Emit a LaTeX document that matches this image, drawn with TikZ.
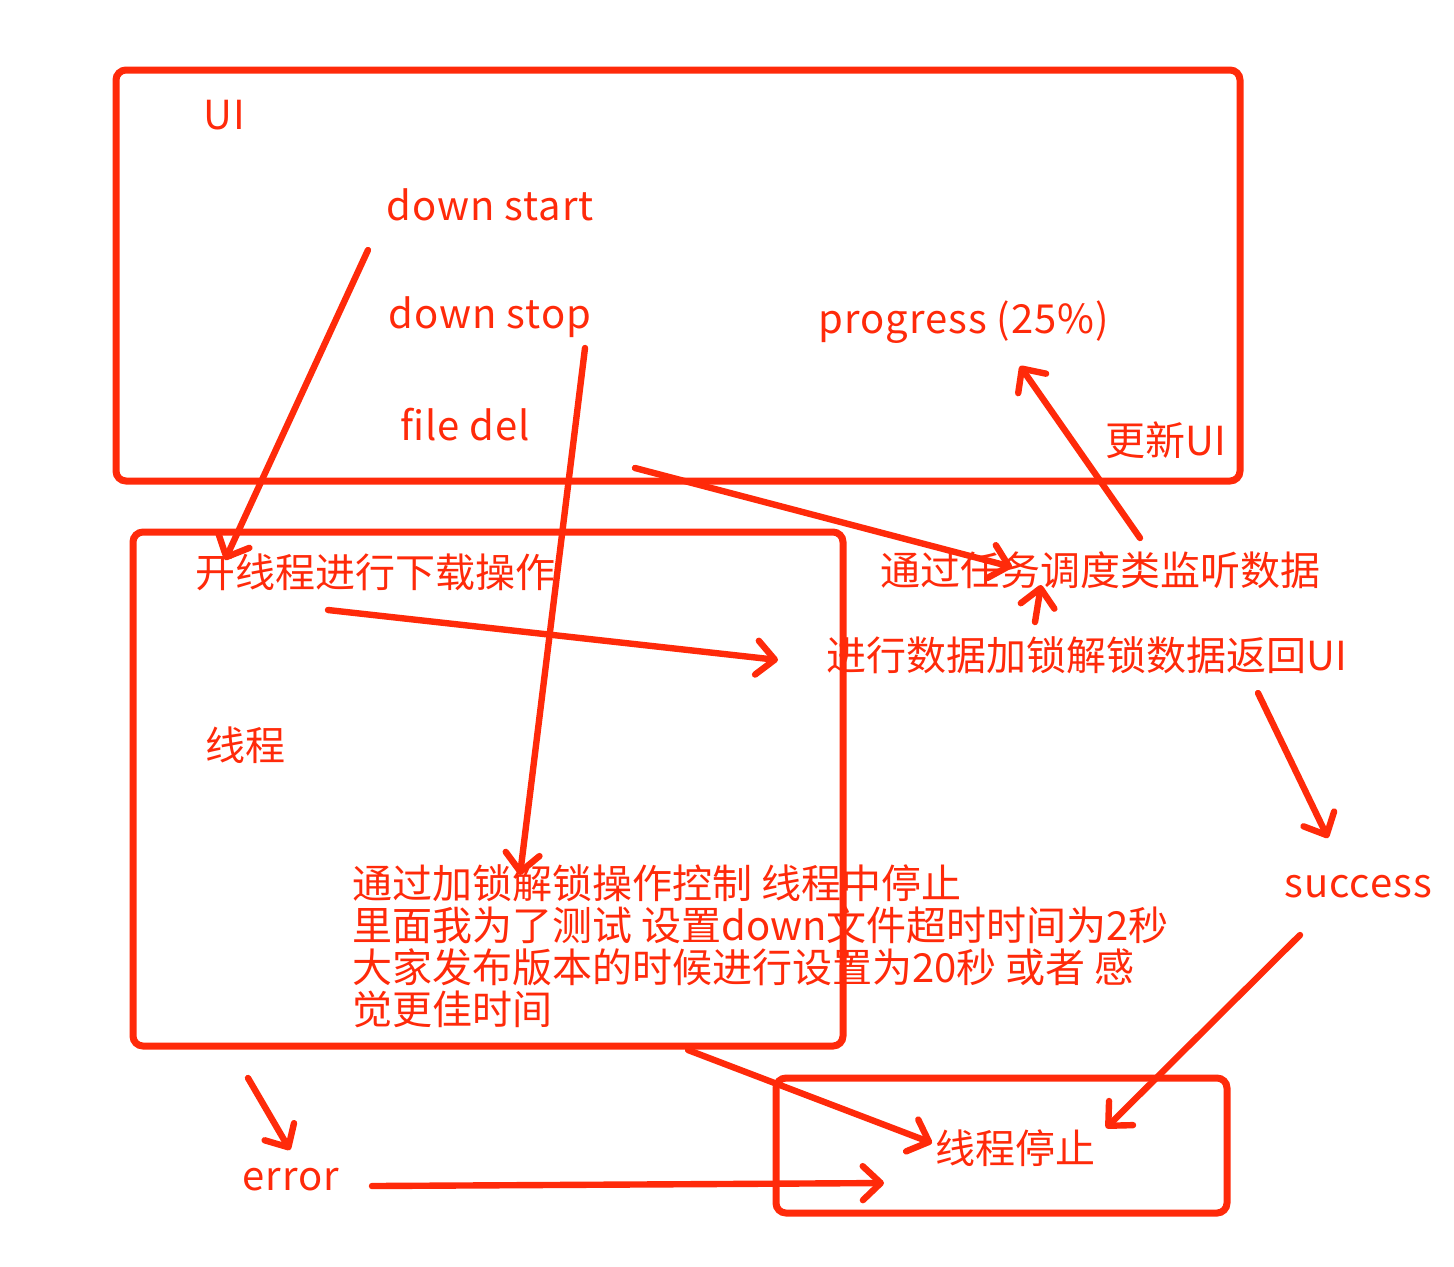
\documentclass[tikz,border=0pt]{standalone}
\usepackage{fontspec}
\setmainfont{Noto Sans CJK SC}
\usetikzlibrary{arrows.meta}
\definecolor{pen}{RGB}{255,42,10}
\tikzset{
  box/.style={draw=pen, line width=3.5pt, rounded corners=5pt, inner sep=0pt, outer sep=0pt, anchor=north west},
  lbl/.style={text=pen, font=\fontsize{20}{21}\selectfont, inner sep=0pt, anchor=west},
  lat/.style={lbl, font=\fontsize{20}{21}\selectfont\addfontfeature{LetterSpace=2.5}},
  arr/.style={draw=pen, line width=3.2pt, line cap=round,
    -{Straight Barb[length=9pt,width=17pt,round]}},
}
\begin{document}
\begin{tikzpicture}[x=0.5pt,y=-0.5pt]
\useasboundingbox[fill=white] (0,0) rectangle (1454,1266);
% boxes
\node[box, minimum width=562pt, minimum height=205.5pt] (uibox) at (116,70) {};
\node[box, minimum width=355pt, minimum height=257pt] (thbox) at (133,532) {};
\node[box, minimum width=225.5pt, minimum height=67.5pt] (stbox) at (776,1078) {};
% labels
\node[lat] (ui) at (203,115) {UI};
\node[lat] (dstart) at (386,205) {down start};
\node[lat] (dstop) at (388,317) {down stop};
\node[lat] (prog) at (818,322) {progress (25\%)};
\node[lat] (fdel) at (400,425) {file del};
\node[lbl] (upd) at (1105,440) {更新UI};
\node[lbl] (open) at (195,572) {开线程进行下载操作};
\node[lbl] (listen) at (880,570) {通过任务调度类监听数据};
\node[lbl] (lock) at (826,655) {进行数据加锁解锁数据返回UI};
\node[lbl] (thr) at (205,745) {线程};
\node[lbl, align=left] (note) at (352,946) {通过加锁解锁操作控制 线程中停止\\里面我为了测试 设置down文件超时时间为2秒\\大家发布版本的时候进行设置为20秒 或者 感\\觉更佳时间};
\node[lat] (succ) at (1284,887) {success};
\node[lbl] (stop) at (935,1148) {线程停止};
\node[lat] (err) at (242,1180) {error};
% connector end points
\coordinate (a1s) at (368,250);  \coordinate (a1e) at (225,560);
\coordinate (a2s) at (585,348);  \coordinate (a2e) at (520,875);
\coordinate (a3s) at (635,468);  \coordinate (a3e) at (1012,567);
\coordinate (a4s) at (328,610);  \coordinate (a4e) at (778,660);
\coordinate (a5s) at (1035,622); \coordinate (a5e) at (1041,585);
\coordinate (a6s) at (1140,538); \coordinate (a6e) at (1020,366);
\coordinate (a7s) at (1258,693); \coordinate (a7e) at (1328,838);
\coordinate (a8s) at (1300,935); \coordinate (a8e) at (1106,1128);
\coordinate (a9s) at (688,1050); \coordinate (a9e) at (932,1143);
\coordinate (a10s) at (248,1078); \coordinate (a10e) at (290,1150);
\coordinate (a11s) at (372,1186); \coordinate (a11m) at (720,1184); \coordinate (a11e) at (884,1183);
% connectors
\draw[arr] (a1s) -- (a1e);
\draw[arr] (a2s) -- (a2e);
\draw[arr] (a3s) -- (a3e);
\draw[arr] (a4s) -- (a4e);
\draw[arr] (a5s) -- (a5e);
\draw[arr] (a6s) -- (a6e);
\draw[arr] (a7s) -- (a7e);
\draw[arr] (a8s) -- (a8e);
\draw[arr] (a9s) -- (a9e);
\draw[arr] (a10s) -- (a10e);
\draw[arr] (a11s) -- (a11m) -- (a11e);
\end{tikzpicture}
\end{document}
